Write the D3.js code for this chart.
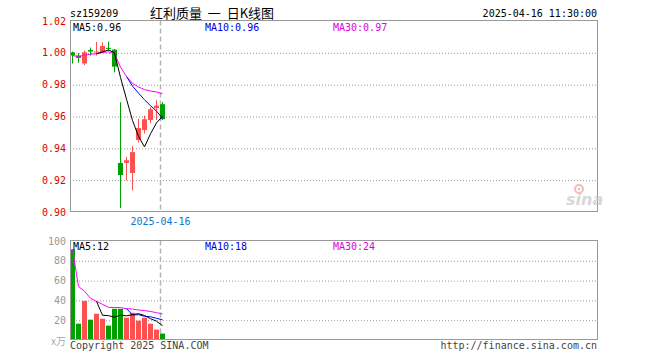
<!DOCTYPE html>
<html>
<head>
<meta charset="utf-8">
<script src="https://cdn.jsdelivr.net/npm/d3@7"></script>
<style>
  body { margin: 0; background: #fff; }
  text { font-family: "DejaVu Sans Mono", monospace; font-size: 10px; }
</style>
</head>
<body>
<div id="chart"></div>
<script>
"use strict";

// == data ==
var dates = ["2025-03-25","2025-03-26","2025-03-27","2025-03-28","2025-03-31","2025-04-01","2025-04-02","2025-04-03",
             "2025-04-07","2025-04-08","2025-04-09","2025-04-10","2025-04-11","2025-04-14","2025-04-15","2025-04-16"];
var open  = [1.000, 0.998, 0.993, 1.0015, 1.000, 1.000, 1.0028, 1.0017, 0.9305, 0.9305, 0.9242, 0.9449, 0.9512, 0.9575, 0.9649, 0.9674];
var high  = [1.0005, 0.9995, 1.001, 1.003, 1.0065, 1.0063, 1.0068, 1.002, 0.9687, 0.9343, 0.9411, 0.9583, 0.9602, 0.9655, 0.9698, 0.9687];
var low   = [0.993, 0.9935, 0.992, 0.998, 0.998, 0.9995, 1.001, 0.9874, 0.9021, 0.9196, 0.9133, 0.9434, 0.949, 0.9555, 0.9575, 0.9575];
var close = [0.998, 0.9965, 1.000, 1.0005, 1.0005, 1.004, 1.0027, 0.991, 0.9229, 0.9322, 0.9373, 0.9524, 0.958, 0.9642, 0.9665, 0.958];
var ma5   = [null, null, null, null, 0.9991, 1.0003, 1.0015, 0.9997, 0.9842, 0.9706, 0.9572, 0.9472, 0.9406, 0.9488, 0.9557, 0.9598];
var ma10  = [null, null, null, null, null, null, null, null, null, 0.9848, 0.9788, 0.9744, 0.9702, 0.9665, 0.9631, 0.9585];
var ma30  = [0.998, 0.9973, 0.9982, 0.9988, 0.9991, 0.9999, 1.0003, 0.9992, 0.9907, 0.9848, 0.9805, 0.9782, 0.9766, 0.9757, 0.9751, 0.9740];

var volume = [91, 16, 39, 20, 26, 21, 14, 31, 31, 22, 27, 19, 22, 16, 10, 6];
var vma5   = [null, null, null, null, 38.5, 24.5, 24.1, 22.5, 24.7, 23.9, 25.1, 26.1, 24.3, 21.0, 18.5, 14.0];
var vma10  = [null, null, null, null, null, null, null, null, null, 31.2, 24.8, 25.1, 23.4, 23.0, 21.4, 19.9];
var vma30  = [91, 53.5, 48.8, 41.6, 38.5, 35.5, 32.5, 32.3, 32.2, 31.2, 30.8, 29.8, 29.2, 28.3, 27.1, 25.8];

var priceTicks = [0.90, 0.92, 0.94, 0.96, 0.98, 1.00, 1.02];
var volTicks = [20, 40, 60, 80, 100];
var markDate = "2025-04-16";

// == svg boilerplate ==
var W = 660, H = 360;
var left = 70, right = 597;
var pTop = 20.5, pBot = 211.5;
var vTop = 240.5, vBot = 339.5;
var slots = 88;

var svg = d3.select("#chart").append("svg")
            .attr("width", W).attr("height", H);

var x = d3.scaleLinear().domain([0, slots]).range([left, left + slots * 6]);
var cx = function (i) { return Math.round(x(i)) + 2.5; };

var yP = d3.scaleLinear().domain([0.90, 1.02]).range([pBot, pTop]);
var yV = d3.scaleLinear().domain([0, 100]).range([vBot, vTop]);

var RED = "#ff5050", GREEN = "#00a000";
var up = function (i) { return close[i] >= open[i]; };

// == grid lines ==
var priceGrid = d3.axisLeft(yP).tickValues(priceTicks.slice(1, -1))
                  .tickFormat("").tickSizeOuter(0).tickSizeInner(-(right - left));
svg.append("g").attr("transform", "translate(" + left + ",0)").call(priceGrid)
   .call(function (g) {
     g.select(".domain").remove();
     g.selectAll("line").attr("stroke", "#999").attr("stroke-dasharray", "1,2")
      .attr("transform", "translate(0,0.5)");
   });

var volGrid = d3.axisLeft(yV).tickValues(volTicks.slice(0, -1))
                .tickFormat("").tickSizeOuter(0).tickSizeInner(-(right - left));
svg.append("g").attr("transform", "translate(" + left + ",0)").call(volGrid)
   .call(function (g) {
     g.select(".domain").remove();
     g.selectAll("line").attr("stroke", "#999").attr("stroke-dasharray", "1,2")
      .attr("transform", "translate(0,0.5)");
   });

// == date separator ==
var sepX = Math.round(x(dates.indexOf(markDate))) + 0.5;
[[pTop, pBot], [vTop, vBot]].forEach(function (r) {
  svg.append("line").attr("x1", sepX).attr("x2", sepX).attr("y1", r[0]).attr("y2", r[1])
     .attr("stroke", "#b4b4b4").attr("stroke-width", 1.5).attr("stroke-dasharray", "5,3");
});

// == volume bars ==
svg.append("g").selectAll("rect").data(volume).enter().append("rect")
   .attr("x", function (d, i) { return cx(i) - 2.5; })
   .attr("width", 5)
   .attr("y", function (d) { return yV(d); })
   .attr("height", function (d) { return vBot - yV(d); })
   .attr("fill", function (d, i) { return up(i) ? RED : GREEN; });

// == candles ==
var candles = svg.append("g").selectAll("g").data(dates).enter().append("g");
candles.append("line")
   .attr("x1", function (d, i) { return cx(i); })
   .attr("x2", function (d, i) { return cx(i); })
   .attr("y1", function (d, i) { return yP(high[i]); })
   .attr("y2", function (d, i) { return yP(low[i]); })
   .attr("stroke", function (d, i) { return up(i) ? RED : GREEN; });
candles.append("rect")
   .attr("x", function (d, i) { return cx(i) - 2.5; })
   .attr("width", 5)
   .attr("y", function (d, i) { return yP(Math.max(open[i], close[i])); })
   .attr("height", function (d, i) {
     return Math.max(1, Math.abs(yP(open[i]) - yP(close[i])));
   })
   .attr("fill", function (d, i) { return up(i) ? RED : GREEN; });

// == moving averages ==
function maLine(values, scale, color) {
  var line = d3.line()
    .defined(function (d) { return d !== null; })
    .x(function (d, i) { return cx(i); })
    .y(function (d) { return scale(d); });
  svg.append("path").datum(values).attr("d", line)
     .attr("fill", "none").attr("stroke", color).attr("stroke-width", 1);
}
maLine(ma30, yP, "#ff00ff");
maLine(ma10, yP, "#0000ff");
maLine(ma5, yP, "#000");
maLine(vma30, yV, "#ff00ff");
maLine(vma10, yV, "#0000ff");
maLine(vma5, yV, "#000");

// == panel borders ==
svg.append("rect").attr("x", left + 0.5).attr("y", pTop).attr("width", right - left).attr("height", pBot - pTop)
   .attr("fill", "none").attr("stroke", "#999");
svg.append("rect").attr("x", left + 0.5).attr("y", vTop).attr("width", right - left).attr("height", vBot - vTop)
   .attr("fill", "none").attr("stroke", "#999");

// == axis labels ==
svg.append("g").selectAll("text").data(priceTicks).enter().append("text")
   .attr("x", 66).attr("y", function (d) { return yP(d) + 4; })
   .attr("text-anchor", "end").attr("fill", "#e00000")
   .text(function (d) { return d.toFixed(2); });

svg.append("g").selectAll("text").data(volTicks).enter().append("text")
   .attr("x", 66).attr("y", function (d) { return yV(d) + 4; })
   .attr("text-anchor", "end").attr("fill", "#999")
   .text(function (d) { return d; });
svg.append("text").attr("x", 66).attr("y", 345).attr("text-anchor", "end")
   .attr("fill", "#aaa").style("font-family", "'Noto Sans CJK SC', sans-serif").text("x万");

svg.append("text").attr("x", sepX).attr("y", 225).attr("text-anchor", "middle")
   .attr("fill", "#0a78d2").text(markDate);

// == header texts ==
svg.append("text").attr("x", 70).attr("y", 17).attr("fill", "#000").text("sz159209");
svg.append("text").attr("x", 150).attr("y", 18).attr("fill", "#000")
   .style("font-family", "'Noto Sans CJK SC', sans-serif").style("font-size", "13px")
   .style("white-space", "pre")
   .text("红利质量  一  日K线图");
svg.append("text").attr("x", 597).attr("y", 17).attr("text-anchor", "end").attr("fill", "#000")
   .text("2025-04-16 11:30:00");

var fmt2 = d3.format(".2f");
svg.append("text").attr("x", 73).attr("y", 30.5).attr("fill", "#000").text("MA5:" + fmt2(ma5[ma5.length - 1]));
svg.append("text").attr("x", 205).attr("y", 30.5).attr("fill", "#0000e0").text("MA10:" + fmt2(ma10[ma10.length - 1]));
svg.append("text").attr("x", 333).attr("y", 30.5).attr("fill", "#e000e0").text("MA30:" + fmt2(ma30[ma30.length - 1]));

svg.append("text").attr("x", 73).attr("y", 250).attr("fill", "#000").text("MA5:12");
svg.append("text").attr("x", 205).attr("y", 250).attr("fill", "#0000e0").text("MA10:18");
svg.append("text").attr("x", 333).attr("y", 250).attr("fill", "#e000e0").text("MA30:24");

svg.append("text").attr("x", 70).attr("y", 349).attr("fill", "#444").text("Copyright 2025 SINA.COM");
svg.append("text").attr("x", 597).attr("y", 349).attr("text-anchor", "end").attr("fill", "#444")
   .text("http://finance.sina.com.cn");

// == sina watermark ==
var logo = svg.append("g").attr("transform", "translate(566,205)").attr("opacity", 0.7);
logo.append("text").attr("x", 0).attr("y", 0)
    .style("font-family", "'DejaVu Sans', sans-serif").style("font-size", "16px")
    .style("font-weight", "bold").style("font-style", "italic")
    .attr("fill", "#c8c8c8").text("sina");
logo.append("circle").attr("cx", 13).attr("cy", -16).attr("r", 4)
    .attr("fill", "none").attr("stroke", "#f0a0a0").attr("stroke-width", 2);
logo.append("circle").attr("cx", 13).attr("cy", -16).attr("r", 1.3).attr("fill", "#f0a0a0");
</script>
</body>
</html>
